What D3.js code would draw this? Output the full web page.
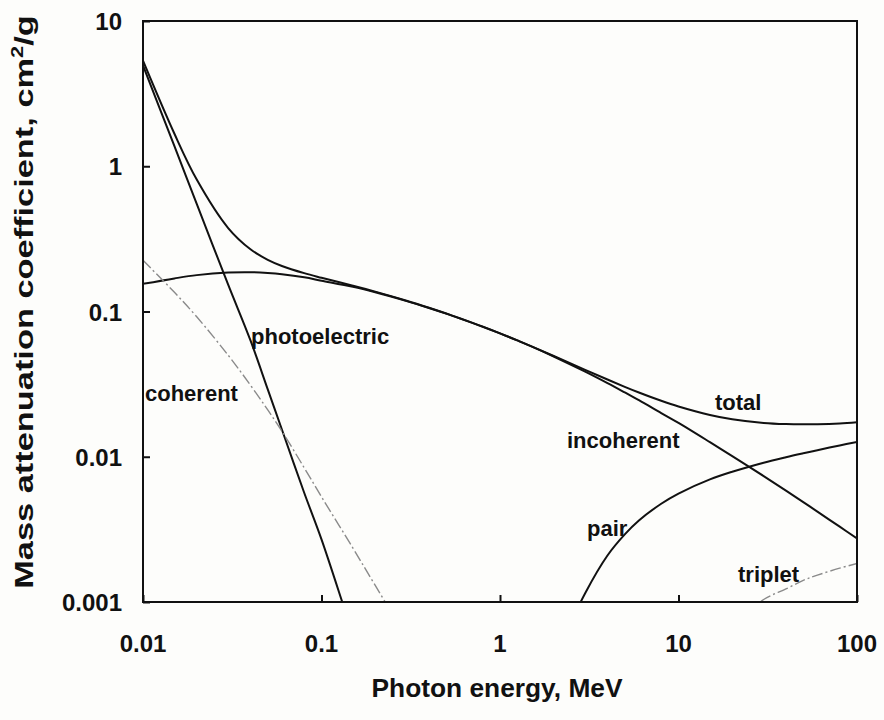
<!DOCTYPE html>
<html>
<head>
<meta charset="utf-8">
<script src="https://cdn.jsdelivr.net/npm/d3@7"></script>
<style>
  html, body { margin: 0; padding: 0; background: #fdfdfb; }
  svg text { font-family: "Liberation Sans", Arial, Helvetica, sans-serif; font-weight: bold; fill: #111; }
</style>
</head>
<body>
<svg id="chart" width="884" height="720"></svg>
<script>
// Photon energies, MeV
const energy = [0.01, 0.015, 0.02, 0.03, 0.04, 0.05, 0.06, 0.08, 0.1, 0.15, 0.2, 0.3, 0.4, 0.5, 0.6, 0.8,
                1, 1.25, 1.5, 2, 3, 4, 5, 6, 8, 10, 15, 20, 30, 40, 50, 60, 80, 100];

// Mass attenuation coefficients, cm2/g
const total = [5.329, 1.673, 0.8096, 0.3756, 0.2683, 0.2269, 0.2059, 0.1837, 0.1707, 0.1505, 0.1370, 0.1186,
               0.1061, 0.09687, 0.08956, 0.07865, 0.07072, 0.06323, 0.05754, 0.04942, 0.03969, 0.03403,
               0.03031, 0.02770, 0.02429, 0.02219, 0.01941, 0.01813, 0.01710, 0.01679, 0.01672, 0.01675,
               0.01697, 0.01731];

const incoherent = [0.1550, 0.1690, 0.1780, 0.1855, 0.1865, 0.1840, 0.1805, 0.1720, 0.1630, 0.1478, 0.1355,
                    0.1179, 0.1058, 0.0967, 0.0894, 0.0786, 0.0707, 0.0632, 0.0575, 0.0490, 0.0385, 0.0321,
                    0.0277, 0.0245, 0.0200, 0.0171, 0.0126, 0.0101, 0.00736, 0.00584, 0.00487, 0.00419,
                    0.00330, 0.00274];

const photoEnergy = [0.01, 0.015, 0.02, 0.03, 0.04, 0.05, 0.06, 0.08, 0.1, 0.15, 0.2];
const photoelectric = [4.944, 1.374, 0.550, 0.153, 0.0632, 0.0291, 0.0154, 0.00565, 0.0027, 0.0006, 0.00022];

const coherentEnergy = [0.01, 0.015, 0.02, 0.03, 0.04, 0.05, 0.06, 0.08, 0.1, 0.15, 0.2, 0.3];
const coherent = [0.225, 0.1355, 0.0919, 0.0500, 0.0311, 0.0210, 0.0150, 0.0084, 0.0053, 0.00235, 0.00130, 0.00057];

const pairEnergy = [2, 3, 4, 5, 6, 8, 10, 15, 20, 30, 40, 50, 60, 80, 100];
const pair = [0.0004, 0.00115, 0.00209, 0.00292, 0.00364, 0.00475, 0.00558, 0.00698, 0.00788, 0.00910,
              0.00993, 0.01057, 0.01110, 0.01196, 0.01265];

const tripletEnergy = [20, 30, 40, 50, 60, 80, 100];
const triplet = [0.00068, 0.00104, 0.00123, 0.00141, 0.00153, 0.00171, 0.00184];

const xTicks = [0.01, 0.1, 1, 10, 100];
const xTickLabels = ["0.01", "0.1", "1", "10", "100"];
const yTicks = [0.001, 0.01, 0.1, 1, 10];
const yTickLabels = ["0.001", "0.01", "0.1", "1", "10"];

const svg = d3.select("#chart");
const plot = { left: 143, right: 857, top: 21, bottom: 602 };

const x = d3.scaleLog().domain([0.01, 100]).range([plot.left, plot.right]);
const y = d3.scaleLog().domain([0.001, 10]).range([plot.bottom, plot.top]);

svg.append("clipPath").attr("id", "plot-clip")
  .append("rect")
  .attr("x", plot.left).attr("y", plot.top)
  .attr("width", plot.right - plot.left).attr("height", plot.bottom - plot.top);

// Axes: inward ticks on the left and bottom only
const xAxis = d3.axisBottom(x).tickValues(xTicks).tickSizeInner(-7).tickSizeOuter(0).tickFormat("");
const yAxis = d3.axisLeft(y).tickValues(yTicks).tickSizeInner(-7).tickSizeOuter(0).tickFormat("");

svg.append("g").attr("transform", `translate(0,${plot.bottom})`).call(xAxis)
  .call(g => g.select(".domain").remove())
  .call(g => g.selectAll("line").attr("stroke", "#111").attr("stroke-width", 2));
svg.append("g").attr("transform", `translate(${plot.left},0)`).call(yAxis)
  .call(g => g.select(".domain").remove())
  .call(g => g.selectAll("line").attr("stroke", "#111").attr("stroke-width", 2));

// Tick labels
svg.append("g").selectAll("text").data(xTicks).join("text")
  .attr("x", d => x(d)).attr("y", 652)
  .attr("text-anchor", "middle").attr("font-size", 24)
  .text((d, i) => xTickLabels[i]);

svg.append("g").selectAll("text").data(yTicks).join("text")
  .attr("x", 122).attr("y", d => y(d) + 9)
  .attr("text-anchor", "end").attr("font-size", 24)
  .text((d, i) => yTickLabels[i]);

// Axis titles
svg.append("text")
  .attr("x", 497).attr("y", 697)
  .attr("text-anchor", "middle").attr("font-size", 25)
  .attr("textLength", 251).attr("lengthAdjust", "spacingAndGlyphs")
  .text("Photon energy, MeV");

// Vertical title, stretched along its reading direction
const yTitleG = svg.append("g");
const yTitle = yTitleG.append("text")
  .attr("text-anchor", "middle").attr("font-size", 25);
yTitle.append("tspan").text("Mass attenuation coefficient, cm");
yTitle.append("tspan").attr("font-size", 16).attr("dy", -10).text("2");
yTitle.append("tspan").attr("dy", 10).text("/g");
const titleLen = yTitle.node().getComputedTextLength();
const stretch = 574 / titleLen;
yTitleG.attr("transform", `translate(33,302) rotate(-90) scale(${stretch},1)`);

// Curves
const line = (xs) => d3.line()
  .x((d, i) => x(xs[i]))
  .y(d => y(d))
  .curve(d3.curveCatmullRom.alpha(0.5));

const curves = svg.append("g").attr("clip-path", "url(#plot-clip)").attr("fill", "none");

const series = [
  { xs: energy, ys: total, color: "#111", width: 2, dash: null },
  { xs: energy, ys: incoherent, color: "#111", width: 2, dash: null },
  { xs: photoEnergy, ys: photoelectric, color: "#111", width: 2, dash: null },
  { xs: pairEnergy, ys: pair, color: "#111", width: 2, dash: null },
  { xs: coherentEnergy, ys: coherent, color: "#8a8a8a", width: 1.4, dash: "11,3,2,3" },
  { xs: tripletEnergy, ys: triplet, color: "#8a8a8a", width: 1.4, dash: "11,3,2,3" }
];

series.forEach(s => {
  curves.append("path")
    .attr("d", line(s.xs)(s.ys))
    .attr("stroke", s.color)
    .attr("stroke-width", s.width)
    .attr("stroke-dasharray", s.dash)
    .attr("stroke-linejoin", "round");
});

// Frame
svg.append("rect")
  .attr("x", plot.left).attr("y", plot.top)
  .attr("width", plot.right - plot.left).attr("height", plot.bottom - plot.top)
  .attr("fill", "none").attr("stroke", "#111").attr("stroke-width", 2);

// Series labels
const labels = [
  { text: "photoelectric", x: 251, y: 344 },
  { text: "coherent", x: 145, y: 401 },
  { text: "total", x: 715, y: 410 },
  { text: "incoherent", x: 567, y: 448 },
  { text: "pair", x: 587, y: 536 },
  { text: "triplet", x: 738, y: 582 }
];
svg.append("g").selectAll("text").data(labels).join("text")
  .attr("x", d => d.x).attr("y", d => d.y)
  .attr("font-size", 22)
  .text(d => d.text);
</script>
</body>
</html>
